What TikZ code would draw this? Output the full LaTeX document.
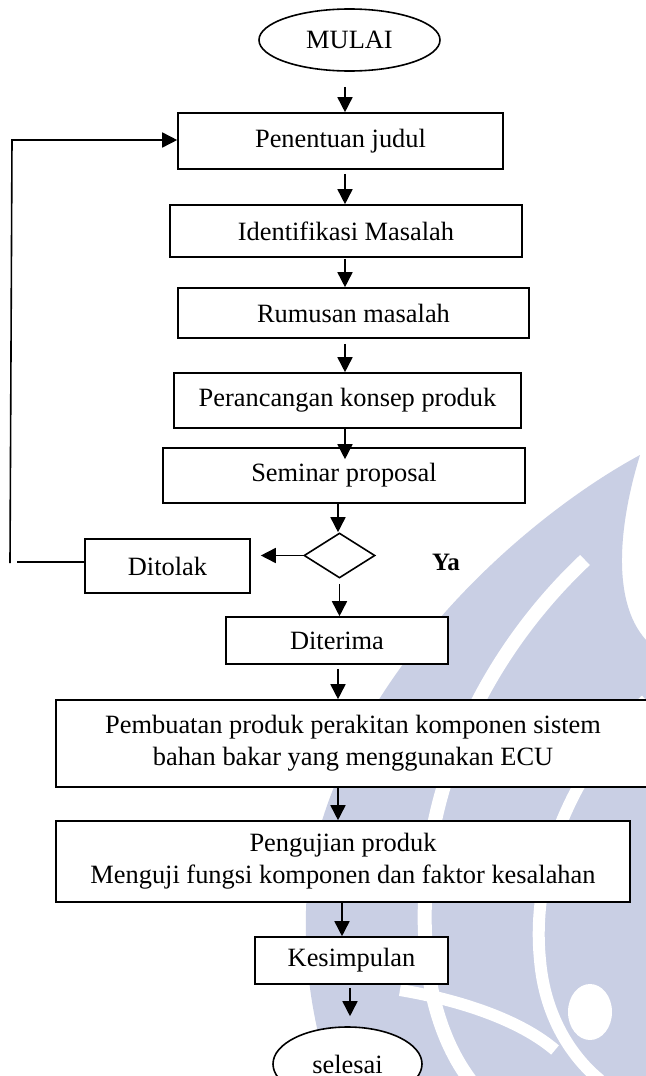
\documentclass[tikz,border=0pt]{standalone}
\usepackage{fontspec}
\setmainfont{Liberation Serif}
\usetikzlibrary{shapes.geometric,arrows.meta}
\definecolor{wm}{RGB}{201,207,228}
\begin{document}
\begin{tikzpicture}[x=0.5pt,y=-0.5pt,
  txt/.style={font=\fontsize{13.2}{16}\selectfont},
  box/.style={draw, fill=white, line width=0.8pt, inner sep=0pt, txt, align=center},
  oval/.style={draw, ellipse, fill=white, line width=0.8pt, inner sep=0pt, txt},
  arr/.style={line width=0.8pt, -{Triangle[length=7.5pt,width=7.5pt]}},
  ln/.style={line width=0.8pt}]
\clip (0,0) rectangle (646,1076);
\fill[white] (0,0) rectangle (646,1076);
% watermark
\fill[wm] (640,455) .. controls (520,520) and (340,680) .. (308,880)
  .. controls (300,960) and (315,1030) .. (330,1076) -- (646,1076) -- (646,640)
  .. controls (610,600) and (620,520) .. (640,455) -- cycle;
\draw[white, line width=7pt] (585,560) .. controls (500,640) and (430,760) .. (425,900)
  .. controls (422,980) and (440,1040) .. (470,1080);
\draw[white, line width=6pt] (646,700) .. controls (580,760) and (530,860) .. (540,960)
  .. controls (545,1020) and (575,1060) .. (600,1080);
\draw[white, line width=6pt] (400,990) .. controls (460,1000) and (520,1020) .. (555,1050);
\fill[white] (590,1012) ellipse [x radius=11pt, y radius=14pt];
% nodes
\node[oval, minimum width=90.5pt, minimum height=31pt] (mulai) at (349.5,40) {MULAI};
\node[box, minimum width=162.5pt, minimum height=28pt] (pen) at (340.5,141) {Penentuan judul};
\node[box, minimum width=176pt, minimum height=26pt] (ident) at (346,231) {Identifikasi Masalah};
\node[box, minimum width=175.5pt, minimum height=25pt] (rumus) at (353.5,313) {Rumusan masalah};
\node[box, minimum width=173.5pt, minimum height=27.5pt] (peran) at (347.5,400.5) {Perancangan konsep produk};
\node[box, minimum width=181pt, minimum height=27.5pt] (sem) at (344,475.5) {Seminar proposal};
\node[draw, diamond, fill=white, line width=0.8pt, inner sep=0pt, minimum width=35.5pt, minimum height=22.5pt] (dec) at (339.5,555.5) {};
\node[box, minimum width=82.5pt, minimum height=27pt] (tolak) at (167.5,566) {Ditolak};
\node[font=\bfseries\fontsize{12.5}{15}\selectfont] (ya) at (446,562) {Ya};
\node[box, minimum width=111pt, minimum height=23.5pt] (terima) at (337,640.5) {Diterima};
\node[box, minimum width=297pt, minimum height=43.5pt] (buat) at (353,743.5) {Pembuatan produk perakitan komponen sistem\\bahan bakar yang menggunakan ECU};
\node[box, minimum width=287pt, minimum height=40.5pt] (uji) at (343,861.5) {Pengujian produk\\Menguji fungsi komponen dan faktor kesalahan};
\node[box, minimum width=96.5pt, minimum height=23.5pt] (simp) at (351.5,960.5) {Kesimpulan};
\node[oval, minimum width=74.5pt, minimum height=37pt] (selesai) at (347.5,1064) {selesai};
% connectors
\draw[arr, shorten <=7.5pt] ([xshift=-2.25pt]mulai.south) -- ([xshift=-2.25pt]mulai.south |- pen.north);
\draw[arr, shorten <=2pt] ([xshift=2.25pt]pen.south) -- ([xshift=2.25pt]pen.south |- ident.north);
\draw[arr, shorten <=0.5pt] ([xshift=-0.5pt]ident.south) -- ([xshift=-0.5pt]ident.south |- rumus.north);
\draw[arr, shorten <=2.5pt] ([xshift=-4.25pt]rumus.south) -- ([xshift=-4.25pt]rumus.south |- peran.north);
\draw[arr, shorten >=-6pt] ([xshift=-1.25pt]peran.south) -- ([xshift=-1.25pt]peran.south |- sem.north);
\draw[arr] ([xshift=-3pt]sem.south) -- ([xshift=-3pt]sem.south |- dec.north);
\draw[arr, shorten <=2.5pt] (dec.south) -- (dec.south |- terima.north);
\draw[arr, shorten <=2pt] ([xshift=0.5pt]terima.south) -- ([xshift=0.5pt]terima.south |- buat.north);
\draw[arr] ([xshift=-7.5pt]buat.south) -- ([xshift=-7.5pt]buat.south |- uji.north);
\draw[arr] ([xshift=-0.5pt]uji.south) -- ([xshift=-0.5pt]uji.south |- simp.north);
\draw[arr, shorten <=1.5pt, shorten >=5pt] ([xshift=-0.75pt]simp.south) -- ([xshift=-0.75pt]simp.south |- selesai.north);
\draw[arr, shorten >=5pt] (dec.west) -- (dec.west -| tolak.east);
% loop back
\coordinate (le) at (17,562);
\coordinate (lb) at (10,563);
\coordinate (lt) at (12,140);
\draw[ln] (tolak.west |- le) -- (le);
\draw[arr] (lb) -- (lt) -- (lt -| pen.west);
\end{tikzpicture}
\end{document}
